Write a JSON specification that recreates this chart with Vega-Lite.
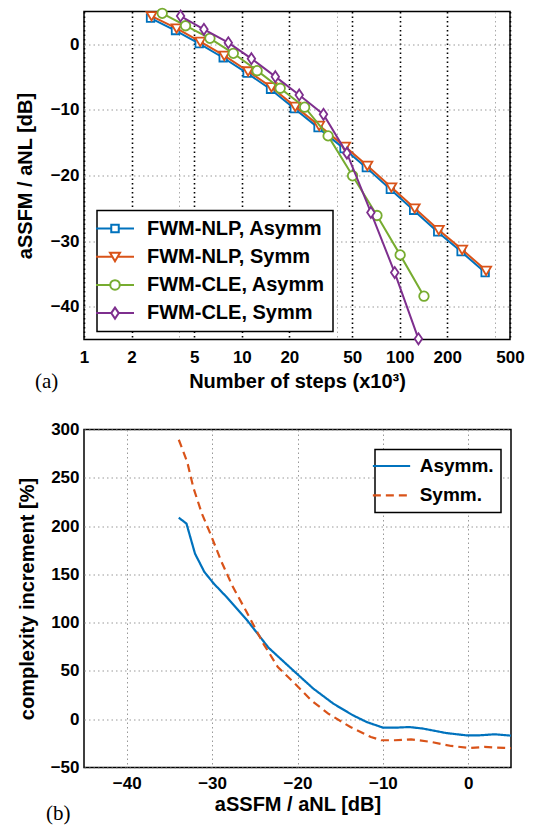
{
  "$schema": "https://vega.github.io/schema/vega-lite/v6.json",
  "background": "white",
  "padding": {"left": 14, "top": 3.5, "right": 5, "bottom": 0},
  "spacing": 90,
  "bounds": "flush",
  "resolve": {
    "scale": {"color": "independent", "shape": "independent", "strokeDash": "independent"},
    "legend": {"color": "independent", "shape": "independent", "strokeDash": "independent"}
  },
  "config": {
    "view": {"stroke": "black", "strokeWidth": 1.5},
    "axis": {
      "labelFont": "Liberation Sans", "labelFontSize": 17, "labelFontWeight": "bold", "labelColor": "black",
      "titleFont": "Liberation Sans", "titleFontSize": 20, "titleFontWeight": "bold", "titleColor": "black",
      "ticks": false, "domain": false, "grid": true, "gridDash": [1.5, 3], "gridColor": "#999999", "gridWidth": 1,
      "labelPadding": 6, "labelOverlap": false, "labelFlush": false
    },
    "legend": {"strokeWidth": 1.5},
    "title": {"font": "Liberation Serif", "fontSize": 21, "fontWeight": "normal", "color": "black"}
  },
  "datasets": {
    "steps": [
      {"series": "FWM-NLP, Asymm", "steps": 2.64, "ratio": 4.0},
      {"series": "FWM-NLP, Asymm", "steps": 3.80, "ratio": 2.1},
      {"series": "FWM-NLP, Asymm", "steps": 5.37, "ratio": 0.1},
      {"series": "FWM-NLP, Asymm", "steps": 7.62, "ratio": -2.05},
      {"series": "FWM-NLP, Asymm", "steps": 10.8, "ratio": -4.4},
      {"series": "FWM-NLP, Asymm", "steps": 15.2, "ratio": -6.85},
      {"series": "FWM-NLP, Asymm", "steps": 21.5, "ratio": -9.8},
      {"series": "FWM-NLP, Asymm", "steps": 30.4, "ratio": -12.7},
      {"series": "FWM-NLP, Asymm", "steps": 44.4, "ratio": -15.9},
      {"series": "FWM-NLP, Asymm", "steps": 61.5, "ratio": -18.8},
      {"series": "FWM-NLP, Asymm", "steps": 87.3, "ratio": -22.1},
      {"series": "FWM-NLP, Asymm", "steps": 122.6, "ratio": -25.3},
      {"series": "FWM-NLP, Asymm", "steps": 174.2, "ratio": -28.6},
      {"series": "FWM-NLP, Asymm", "steps": 245, "ratio": -31.6},
      {"series": "FWM-NLP, Asymm", "steps": 348, "ratio": -34.8},
      {"series": "FWM-NLP, Symm", "steps": 2.68, "ratio": 4.31},
      {"series": "FWM-NLP, Symm", "steps": 3.86, "ratio": 2.44},
      {"series": "FWM-NLP, Symm", "steps": 5.45, "ratio": 0.40},
      {"series": "FWM-NLP, Symm", "steps": 7.74, "ratio": -1.74},
      {"series": "FWM-NLP, Symm", "steps": 10.95, "ratio": -4.11},
      {"series": "FWM-NLP, Symm", "steps": 15.4, "ratio": -6.54},
      {"series": "FWM-NLP, Symm", "steps": 21.8, "ratio": -9.5},
      {"series": "FWM-NLP, Symm", "steps": 30.9, "ratio": -12.4},
      {"series": "FWM-NLP, Symm", "steps": 45.1, "ratio": -15.6},
      {"series": "FWM-NLP, Symm", "steps": 62.4, "ratio": -18.5},
      {"series": "FWM-NLP, Symm", "steps": 88.6, "ratio": -21.8},
      {"series": "FWM-NLP, Symm", "steps": 124.5, "ratio": -25.0},
      {"series": "FWM-NLP, Symm", "steps": 176.9, "ratio": -28.3},
      {"series": "FWM-NLP, Symm", "steps": 248.8, "ratio": -31.3},
      {"series": "FWM-NLP, Symm", "steps": 353, "ratio": -34.5},
      {"series": "FWM-CLE, Asymm", "steps": 3.13, "ratio": 4.72},
      {"series": "FWM-CLE, Asymm", "steps": 4.40, "ratio": 2.83},
      {"series": "FWM-CLE, Asymm", "steps": 6.28, "ratio": 0.91},
      {"series": "FWM-CLE, Asymm", "steps": 8.83, "ratio": -1.37},
      {"series": "FWM-CLE, Asymm", "steps": 12.5, "ratio": -4.02},
      {"series": "FWM-CLE, Asymm", "steps": 17.5, "ratio": -6.70},
      {"series": "FWM-CLE, Asymm", "steps": 25.0, "ratio": -9.59},
      {"series": "FWM-CLE, Asymm", "steps": 35.2, "ratio": -13.96},
      {"series": "FWM-CLE, Asymm", "steps": 50.3, "ratio": -20.05},
      {"series": "FWM-CLE, Asymm", "steps": 71.8, "ratio": -26.1},
      {"series": "FWM-CLE, Asymm", "steps": 100.7, "ratio": -32.1},
      {"series": "FWM-CLE, Asymm", "steps": 142.5, "ratio": -38.4},
      {"series": "FWM-CLE, Symm", "steps": 4.09, "ratio": 4.31},
      {"series": "FWM-CLE, Symm", "steps": 5.75, "ratio": 2.28},
      {"series": "FWM-CLE, Symm", "steps": 8.21, "ratio": 0.24},
      {"series": "FWM-CLE, Symm", "steps": 11.5, "ratio": -2.19},
      {"series": "FWM-CLE, Symm", "steps": 16.3, "ratio": -4.93},
      {"series": "FWM-CLE, Symm", "steps": 23.1, "ratio": -7.72},
      {"series": "FWM-CLE, Symm", "steps": 32.9, "ratio": -10.68},
      {"series": "FWM-CLE, Symm", "steps": 46.3, "ratio": -16.59},
      {"series": "FWM-CLE, Symm", "steps": 65.7, "ratio": -25.63},
      {"series": "FWM-CLE, Symm", "steps": 93.0, "ratio": -34.8},
      {"series": "FWM-CLE, Symm", "steps": 131.5, "ratio": -44.9}
    ],
    "complexity": [
      {"scheme": "Asymm.", "ratio_db": -33.9, "increment": 208.7},
      {"scheme": "Asymm.", "ratio_db": -33.0, "increment": 202.5},
      {"scheme": "Asymm.", "ratio_db": -32.0, "increment": 171.4},
      {"scheme": "Asymm.", "ratio_db": -30.9, "increment": 152.4},
      {"scheme": "Asymm.", "ratio_db": -29.8, "increment": 140.4},
      {"scheme": "Asymm.", "ratio_db": -28.3, "increment": 126.5},
      {"scheme": "Asymm.", "ratio_db": -25.9, "increment": 102.5},
      {"scheme": "Asymm.", "ratio_db": -23.4, "increment": 74.1},
      {"scheme": "Asymm.", "ratio_db": -20.3, "increment": 48.9},
      {"scheme": "Asymm.", "ratio_db": -18.15, "increment": 31.7},
      {"scheme": "Asymm.", "ratio_db": -15.8, "increment": 16.1},
      {"scheme": "Asymm.", "ratio_db": -13.5, "increment": 4.0},
      {"scheme": "Asymm.", "ratio_db": -11.9, "increment": -2.9},
      {"scheme": "Asymm.", "ratio_db": -10.0, "increment": -8.7},
      {"scheme": "Asymm.", "ratio_db": -8.4, "increment": -8.7},
      {"scheme": "Asymm.", "ratio_db": -6.9, "increment": -8.1},
      {"scheme": "Asymm.", "ratio_db": -5.3, "increment": -9.7},
      {"scheme": "Asymm.", "ratio_db": -2.6, "increment": -14.3},
      {"scheme": "Asymm.", "ratio_db": -0.25, "increment": -16.7},
      {"scheme": "Asymm.", "ratio_db": 1.3, "increment": -16.7},
      {"scheme": "Asymm.", "ratio_db": 3.1, "increment": -15.6},
      {"scheme": "Asymm.", "ratio_db": 5.0, "increment": -17.0},
      {"scheme": "Symm.", "ratio_db": -33.9, "increment": 289.4},
      {"scheme": "Symm.", "ratio_db": -32.9, "increment": 266.0},
      {"scheme": "Symm.", "ratio_db": -32.2, "increment": 240.0},
      {"scheme": "Symm.", "ratio_db": -31.2, "increment": 213.0},
      {"scheme": "Symm.", "ratio_db": -30.2, "increment": 192.0},
      {"scheme": "Symm.", "ratio_db": -28.9, "increment": 163.0},
      {"scheme": "Symm.", "ratio_db": -27.6, "increment": 137.6},
      {"scheme": "Symm.", "ratio_db": -26.0, "increment": 111.7},
      {"scheme": "Symm.", "ratio_db": -24.0, "increment": 78.3},
      {"scheme": "Symm.", "ratio_db": -22.3, "increment": 54.0},
      {"scheme": "Symm.", "ratio_db": -20.3, "increment": 36.9},
      {"scheme": "Symm.", "ratio_db": -18.4, "increment": 19.6},
      {"scheme": "Symm.", "ratio_db": -16.4, "increment": 5.8},
      {"scheme": "Symm.", "ratio_db": -13.8, "increment": -8.1},
      {"scheme": "Symm.", "ratio_db": -11.4, "increment": -18.4},
      {"scheme": "Symm.", "ratio_db": -10.2, "increment": -21.8},
      {"scheme": "Symm.", "ratio_db": -8.6, "increment": -21.8},
      {"scheme": "Symm.", "ratio_db": -6.7, "increment": -20.8},
      {"scheme": "Symm.", "ratio_db": -4.3, "increment": -23.6},
      {"scheme": "Symm.", "ratio_db": -2.0, "increment": -27.7},
      {"scheme": "Symm.", "ratio_db": 0.1, "increment": -29.8},
      {"scheme": "Symm.", "ratio_db": 1.9, "increment": -28.7},
      {"scheme": "Symm.", "ratio_db": 4.2, "increment": -29.7},
      {"scheme": "Symm.", "ratio_db": 5.0, "increment": -30.0}
    ]
  },
  "vconcat": [
    {
      "width": 426,
      "height": 328,
      "data": {"name": "steps"},
      "title": {"text": "(a)", "orient": "bottom", "anchor": "start", "frame": "group", "offset": 0, "dx": -49, "dy": -21},
      "encoding": {
        "x": {
          "field": "steps", "type": "quantitative",
          "scale": {"type": "log", "domain": [1, 500], "nice": false},
          "axis": {
            "title": "Number of steps (x10³)",
            "values": [1, 2, 4, 5, 10, 20, 40, 50, 100, 200, 400, 500],
            "labelExpr": "indexof([4, 40, 400], datum.value) >= 0 ? '' : format(datum.value, 'd')",
            "gridColor": {"condition": {"test": "indexof([4, 40, 400], datum.value) >= 0", "value": "#aaaaaa"}, "value": "black"},
            "gridWidth": {"condition": {"test": "indexof([4, 40, 400], datum.value) >= 0", "value": 1}, "value": 1.6},
            "labelPadding": 10,
            "titlePadding": 6
          }
        },
        "y": {
          "field": "ratio", "type": "quantitative",
          "scale": {"domain": [-45, 5], "nice": false},
          "axis": {"title": "aSSFM / aNL [dB]", "values": [-40, -30, -20, -10, 0], "labelPadding": 5, "titlePadding": 15}
        }
      },
      "layer": [
        {"transform": [{"filter": "datum.series == 'FWM-NLP, Asymm'"}],
         "mark": {"type": "line", "color": "#0072BD", "strokeWidth": 2,
                  "point": {"shape": "M-0.75,-0.75H0.75V0.75H-0.75Z", "size": 100, "filled": false, "fill": "white", "fillOpacity": 1, "stroke": "#0072BD", "strokeWidth": 1.8}}},
        {"transform": [{"filter": "datum.series == 'FWM-NLP, Symm'"}],
         "mark": {"type": "line", "color": "#D95319", "strokeWidth": 2,
                  "point": {"shape": "M-1,-0.8H1L0,0.9Z", "size": 100, "filled": false, "fill": "white", "fillOpacity": 1, "stroke": "#D95319", "strokeWidth": 1.8}}},
        {"transform": [{"filter": "datum.series == 'FWM-CLE, Asymm'"}],
         "mark": {"type": "line", "color": "#77AC30", "strokeWidth": 2,
                  "point": {"shape": "circle", "size": 90, "filled": false, "fill": "white", "fillOpacity": 1, "stroke": "#77AC30", "strokeWidth": 1.8}}},
        {"transform": [{"filter": "datum.series == 'FWM-CLE, Symm'"}],
         "mark": {"type": "line", "color": "#7E2F8E", "strokeWidth": 2,
                  "point": {"shape": "M0,-1.1L0.75,0L0,1.1L-0.75,0Z", "size": 100, "filled": false, "fill": "white", "fillOpacity": 1, "stroke": "#7E2F8E", "strokeWidth": 1.8}}},
        {
          "transform": [{"filter": "datum.steps < 0"}],
          "mark": {"type": "point", "size": 100, "filled": false, "fill": "white", "strokeWidth": 2},
          "encoding": {
            "color": {
              "field": "series", "type": "nominal",
              "scale": {"domain": ["FWM-NLP, Asymm", "FWM-NLP, Symm", "FWM-CLE, Asymm", "FWM-CLE, Symm"], "range": ["#0072BD", "#D95319", "#77AC30", "#7E2F8E"]},
              "legend": {"orient": "none", "legendX": 13, "legendY": 199, "title": null, "symbolOpacity": 1, "symbolSize": 100, "symbolStrokeWidth": 2, "symbolFillColor": "white", "labelFont": "Liberation Sans", "labelFontSize": 20, "labelFontWeight": "bold", "labelColor": "black", "strokeColor": "black", "fillColor": "white", "padding": 8, "rowPadding": 8.2, "labelOffset": 22, "labelLimit": 400}
            },
            "shape": {
              "field": "series", "type": "nominal",
              "scale": {"domain": ["FWM-NLP, Asymm", "FWM-NLP, Symm", "FWM-CLE, Asymm", "FWM-CLE, Symm"],
                        "range": ["M-3.8,0H-0.75M0.75,0H3.8M-0.75,-0.75H0.75V0.75H-0.75Z", "M-3.8,0H-0.53M0.53,0H3.8M-1,-0.8H1L0,0.9Z", "M-3.8,0H-0.95M0.95,0H3.8M0.95,0A0.95,0.95 0 1,1 -0.95,0A0.95,0.95 0 1,1 0.95,0Z", "M-3.8,0H-0.75M0.75,0H3.8M0,-1.1L0.75,0L0,1.1L-0.75,0Z"]},
              "legend": {"orient": "none", "legendX": 13, "legendY": 199, "title": null, "symbolOpacity": 1, "symbolSize": 100, "symbolStrokeWidth": 2, "symbolFillColor": "white", "labelFont": "Liberation Sans", "labelFontSize": 20, "labelFontWeight": "bold", "labelColor": "black", "strokeColor": "black", "fillColor": "white", "padding": 8, "rowPadding": 8.2, "labelOffset": 22, "labelLimit": 400}
            }
          }
        }
      ]
    },
    {
      "width": 427,
      "height": 338,
      "data": {"name": "complexity"},
      "title": {"text": "(b)", "orient": "bottom", "anchor": "start", "frame": "group", "offset": 0, "dx": -38, "dy": -12},
      "mark": {"type": "line", "strokeWidth": 2.2},
      "encoding": {
        "x": {
          "field": "ratio_db", "type": "quantitative",
          "scale": {"domain": [-45, 5], "nice": false},
          "axis": {"title": "aSSFM / aNL [dB]", "values": [-40, -30, -20, -10, 0], "labelPadding": 8, "titlePadding": 3}
        },
        "y": {
          "field": "increment", "type": "quantitative",
          "scale": {"domain": [-50, 300], "nice": false},
          "axis": {"title": "complexity increment [%]", "values": [-50, 0, 50, 100, 150, 200, 250, 300], "labelPadding": 5, "titlePadding": 13}
        },
        "color": {
          "field": "scheme", "type": "nominal",
          "scale": {"domain": ["Asymm.", "Symm."], "range": ["#0072BD", "#D95319"]},
          "legend": {"orient": "none", "legendX": 291, "legendY": 20, "title": null, "symbolType": "M-3.73,0H3.73", "symbolSize": 100, "symbolStrokeWidth": 2.2, "labelFont": "Liberation Sans", "labelFontSize": 19, "labelFontWeight": "bold", "labelColor": "black", "strokeColor": "black", "fillColor": "white", "padding": 7, "rowPadding": 9.3, "labelOffset": 18.7, "labelLimit": 400}
        },
        "strokeDash": {
          "field": "scheme", "type": "nominal",
          "scale": {"domain": ["Asymm.", "Symm."], "range": [[1, 0], [8, 5]]},
          "legend": {"orient": "none", "legendX": 291, "legendY": 20, "title": null, "symbolType": "M-3.73,0H3.73", "symbolSize": 100, "symbolStrokeWidth": 2.2, "labelFont": "Liberation Sans", "labelFontSize": 19, "labelFontWeight": "bold", "labelColor": "black", "strokeColor": "black", "fillColor": "white", "padding": 7, "rowPadding": 9.3, "labelOffset": 18.7, "labelLimit": 400}
        }
      }
    }
  ]
}
